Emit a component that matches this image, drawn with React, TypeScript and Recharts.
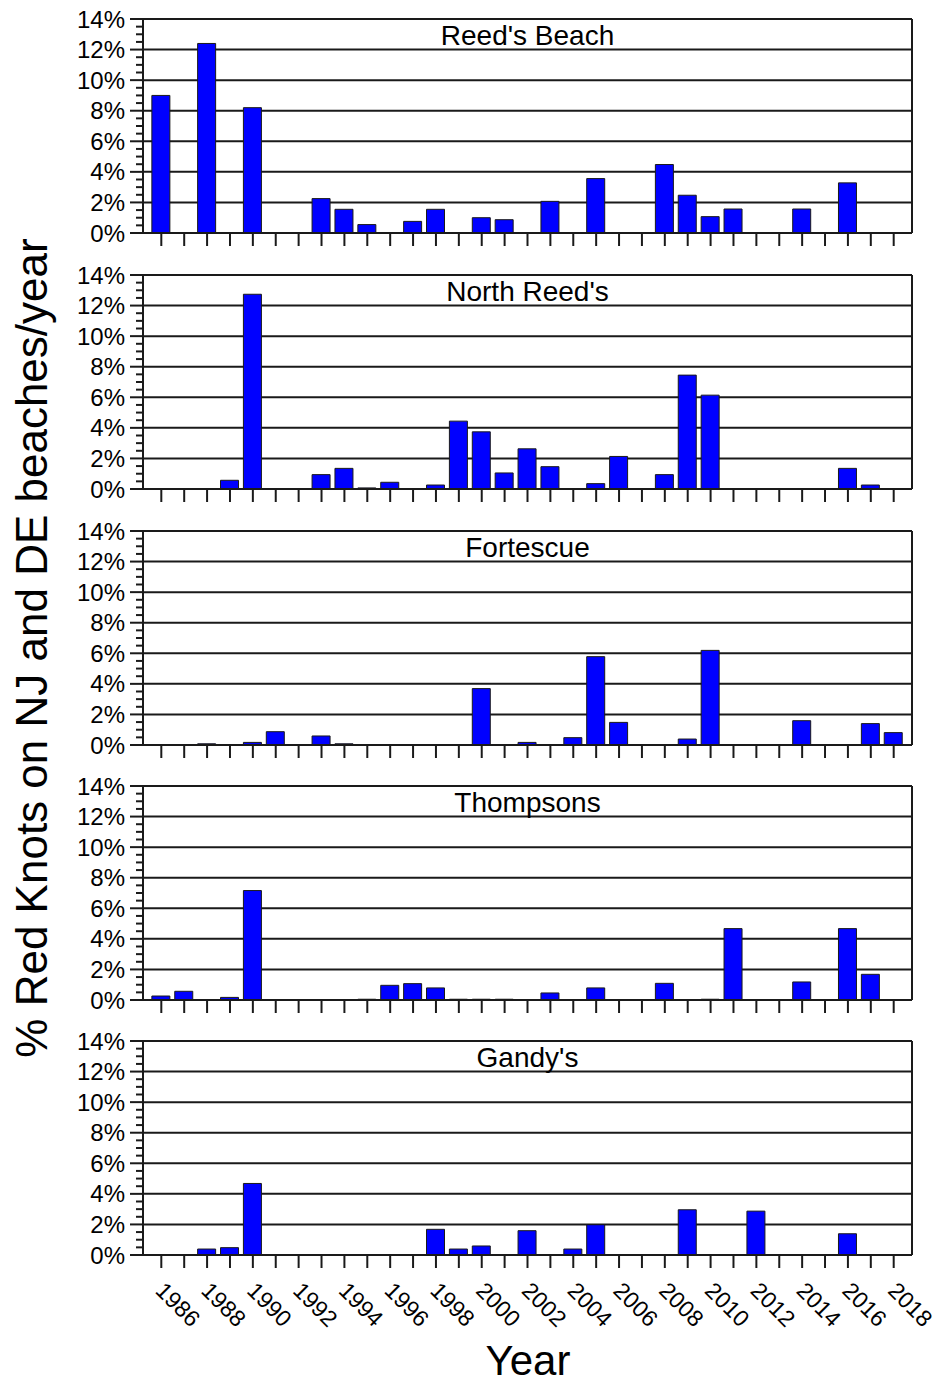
import { BarChart, Bar, XAxis, YAxis, CartesianGrid, ReferenceLine } from 'recharts'

const YEARS = [
  1986, 1987, 1988, 1989, 1990, 1991, 1992, 1993, 1994, 1995, 1996,
  1997, 1998, 1999, 2000, 2001, 2002, 2003, 2004, 2005, 2006, 2007,
  2008, 2009, 2010, 2011, 2012, 2013, 2014, 2015, 2016, 2017, 2018,
]
// only every other year carries a label on the bottom panel
const YEAR_LABELS = [
  1986, 1988, 1990, 1992, 1994, 1996, 1998, 2000, 2002,
  2004, 2006, 2008, 2010, 2012, 2014, 2016, 2018,
]

// % of Red Knots per beach per year (1986 … 2018)
const REEDS_BEACH = [
  9.0, 0, 12.4, 0, 8.2, 0, 0, 2.25, 1.55, 0.55, 0,
  0.76, 1.55, 0, 1.0, 0.87, 0, 2.07, 0, 3.56, 0, 0,
  4.48, 2.47, 1.07, 1.57, 0, 0, 1.57, 0, 3.28, 0, 0,
]
const NORTH_REEDS = [
  0, 0, 0, 0.57, 12.74, 0, 0, 0.94, 1.35, 0.07, 0.44,
  0, 0.26, 4.44, 3.74, 1.05, 2.63, 1.46, 0, 0.35, 2.13, 0,
  0.94, 7.45, 6.14, 0, 0, 0, 0, 0, 1.35, 0.26, 0,
]
const FORTESCUE = [
  0, 0, 0.08, 0, 0.17, 0.87, 0, 0.59, 0.08, 0, 0,
  0, 0, 0, 3.69, 0, 0.17, 0, 0.48, 5.78, 1.48, 0,
  0, 0.39, 6.19, 0, 0, 0, 1.59, 0, 0, 1.4, 0.81,
]
const THOMPSONS = [
  0.26, 0.57, 0, 0.17, 7.16, 0, 0, 0, 0, 0.05, 0.96,
  1.07, 0.79, 0.05, 0.05, 0.05, 0, 0.46, 0, 0.79, 0, 0,
  1.09, 0, 0.05, 4.67, 0, 0, 1.18, 0, 4.67, 1.68, 0,
]
const GANDYS = [
  0, 0, 0.39, 0.48, 4.68, 0, 0, 0, 0, 0, 0,
  0, 1.68, 0.39, 0.59, 0, 1.59, 0, 0.39, 1.98, 0, 0,
  0, 2.96, 0, 0, 2.87, 0, 0, 0, 1.39, 0, 0,
]

const SITES = ["Reed's Beach", "North Reed's", 'Fortescue', 'Thompsons', "Gandy's"]
const SITE_VALUES = [REEDS_BEACH, NORTH_REEDS, FORTESCUE, THOMPSONS, GANDYS]

const Y_TICKS = [
  0, 0.5, 1, 1.5, 2, 2.5, 3, 3.5, 4, 4.5, 5, 5.5, 6, 6.5, 7,
  7.5, 8, 8.5, 9, 9.5, 10, 10.5, 11, 11.5, 12, 12.5, 13, 13.5, 14,
]
const Y_MAJOR = [0, 2, 4, 6, 8, 10, 12, 14]
const GRID_Y = [2, 4, 6, 8, 10, 12, 14]
const X_DOMAIN = [1985.2, 2018.8]

const FONT = '"Liberation Sans", Arial, Helvetica, sans-serif'
const INK = '#1a1a1a'
const PLOT_LEFT = 143
const PLOT_RIGHT = 912
const PLOT_H = 214
const PAD_TOP = 18
const PANEL_TOPS = [19, 275, 531, 786, 1041]
const Y_AXIS_W = 70
const TICK_LEN = 13
const MINOR_LEN = 7
const Y_TICK_MARGIN = 5

function YTick(props: any) {
  const { x, y, payload } = props
  const axisX = x + TICK_LEN + Y_TICK_MARGIN
  const major = Y_MAJOR.includes(payload.value)
  return (
    <g>
      <line
        x1={axisX - (major ? TICK_LEN : MINOR_LEN)}
        x2={axisX}
        y1={y}
        y2={y}
        stroke={INK}
        strokeWidth={2}
      />
      {major && (
        <text x={x} y={y} dy="0.36em" textAnchor="end" fontSize={24} fill="#000" fontFamily={FONT}>
          {payload.value}%
        </text>
      )}
    </g>
  )
}

function XTick(props: any) {
  const { x, y, payload, showLabel } = props
  if (!showLabel || !YEAR_LABELS.includes(payload.value)) return <g />
  const tx = x - 7
  const ty = y + 22
  return (
    <text
      x={tx}
      y={ty}
      transform={`rotate(45, ${tx}, ${ty})`}
      textAnchor="start"
      fontSize={23}
      fill="#000"
      fontFamily={FONT}
    >
      {payload.value}
    </text>
  )
}

function Panel({ title, values, top, last }: { title: string; values: number[]; top: number; last: boolean }) {
  const data = YEARS.map((year, i) => ({ year, pct: values[i] }))
  const xAxisH = last ? 88 : 16
  return (
    <div style={{ position: 'absolute', left: 0, top: top - PAD_TOP }}>
      <BarChart
        width={938}
        height={PAD_TOP + PLOT_H + xAxisH}
        data={data}
        margin={{ top: PAD_TOP, right: 938 - PLOT_RIGHT, bottom: 0, left: PLOT_LEFT - Y_AXIS_W }}
      >
        <CartesianGrid
          horizontalValues={GRID_Y}
          verticalValues={X_DOMAIN}
          stroke={INK}
          strokeWidth={2}
        />
        <XAxis
          dataKey="year"
          type="number"
          domain={X_DOMAIN}
          ticks={YEARS}
          interval={0}
          height={xAxisH}
          tickSize={TICK_LEN}
          tickMargin={2}
          axisLine={{ stroke: INK, strokeWidth: 2 }}
          tickLine={{ stroke: INK, strokeWidth: 2 }}
          tick={<XTick showLabel={last} />}
        />
        <YAxis
          type="number"
          domain={[0, 14]}
          ticks={Y_TICKS}
          interval={0}
          width={Y_AXIS_W}
          tickSize={TICK_LEN}
          tickMargin={Y_TICK_MARGIN}
          tickLine={false}
          axisLine={{ stroke: INK, strokeWidth: 2 }}
          tick={<YTick />}
        />
        <ReferenceLine
          y={14}
          stroke="none"
          label={{ value: title, position: 'bottom', offset: 6, fontSize: 28, fill: '#000', fontFamily: FONT }}
        />
        <Bar dataKey="pct" fill="#0000ff" stroke={INK} strokeWidth={1} barSize={18} isAnimationActive={false} />
      </BarChart>
    </div>
  )
}

export default function App() {
  return (
    <div style={{ position: 'absolute', left: 0, top: 0, width: 938, height: 1387, background: '#fff', fontFamily: FONT }}>
      {SITES.map((site, i) => (
        <Panel key={site} title={site} values={SITE_VALUES[i]} top={PANEL_TOPS[i]} last={i === SITES.length - 1} />
      ))}
      <div
        style={{
          position: 'absolute',
          left: 31.8 - 450,
          top: 647.5 - 22,
          width: 900,
          height: 44,
          lineHeight: '44px',
          fontSize: 44,
          textAlign: 'center',
          whiteSpace: 'nowrap',
          transform: 'rotate(-90deg)',
          color: '#000',
        }}
      >
        % Red Knots on NJ and DE beaches/year
      </div>
      <div
        style={{
          position: 'absolute',
          left: 528 - 100,
          top: 1340,
          width: 200,
          height: 42,
          lineHeight: '42px',
          fontSize: 42,
          textAlign: 'center',
          color: '#000',
        }}
      >
        Year
      </div>
    </div>
  )
}
